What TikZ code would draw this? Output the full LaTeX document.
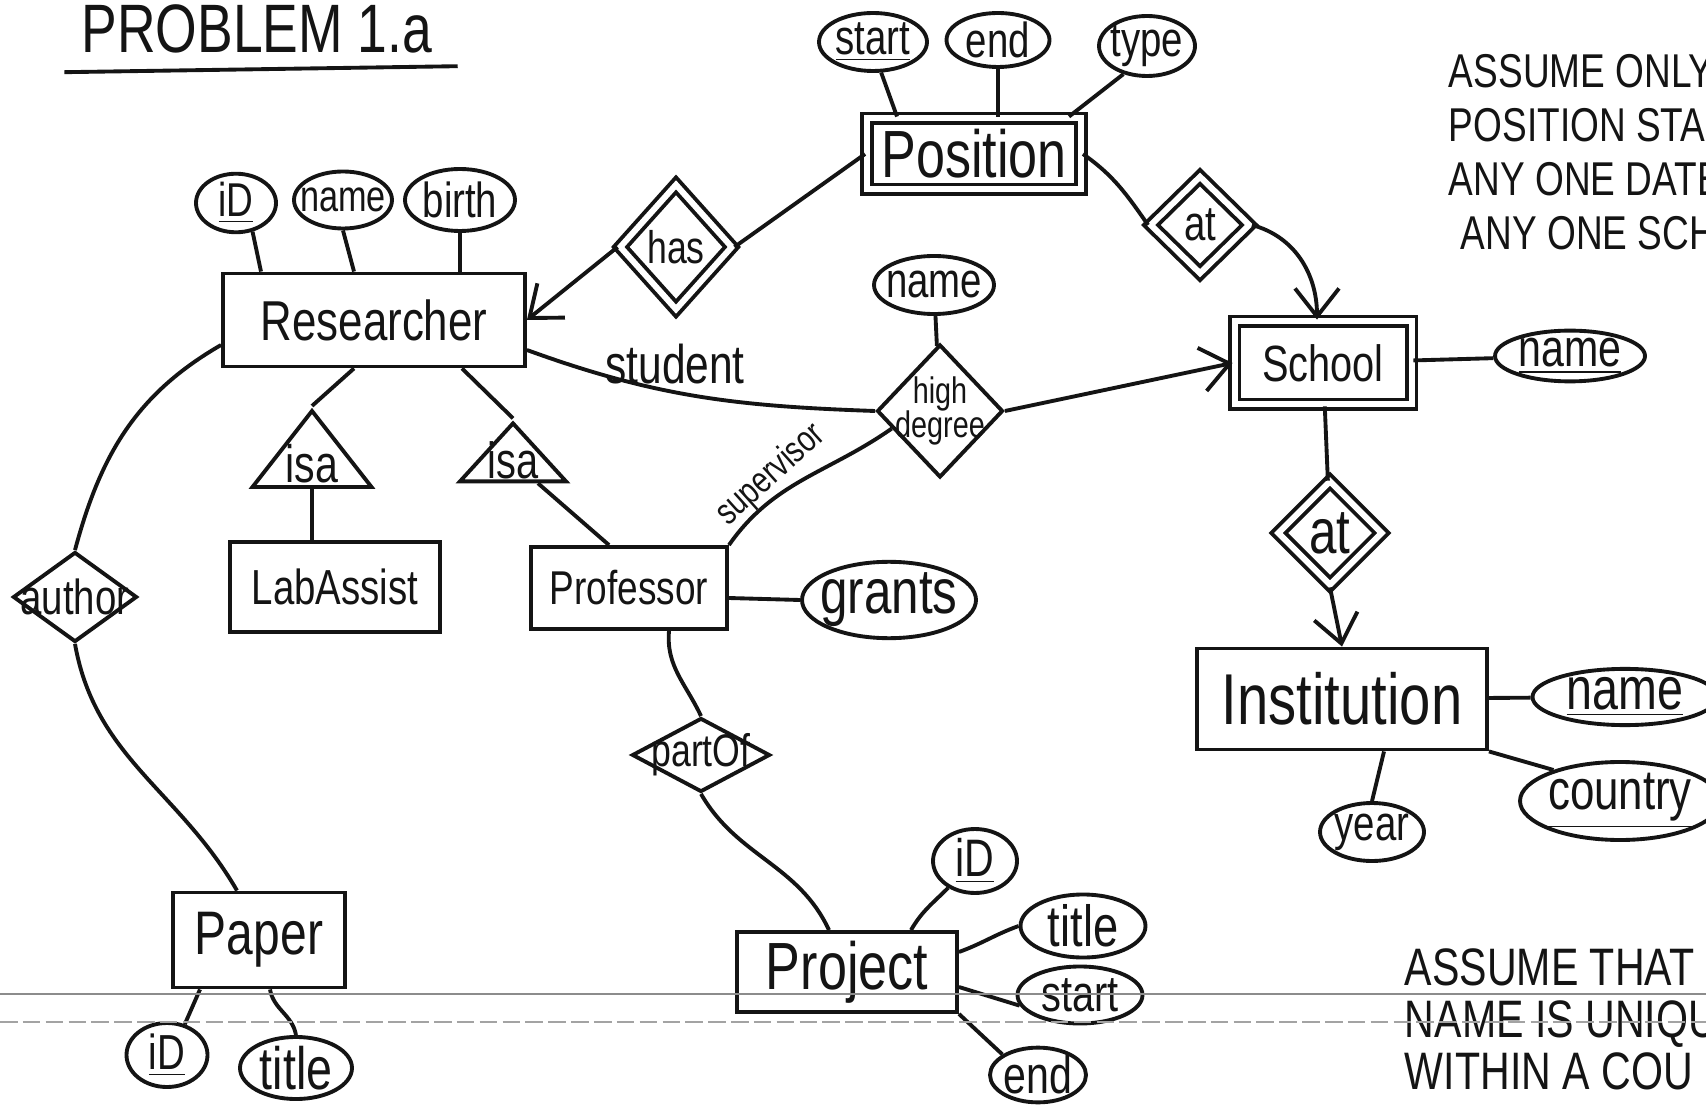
\documentclass[tikz,border=0pt]{standalone}
\usepackage{fontspec}
\setmainfont{Liberation Sans}[FakeStretch=0.78]
\usetikzlibrary{arrows.meta, positioning, shapes.geometric, calc}
\definecolor{cink}{HTML}{141414}
\definecolor{cgrey}{HTML}{8C8C8C}
\tikzset{
  every picture/.style={line width=1.1pt, color=cink},
  fs/.style={font=\fontsize{#1pt}{#1pt}\selectfont},
  nowidth/.style={execute at begin node={\hbox to 0pt\bgroup\hss}, execute at end node={\hss\egroup}},
  ent/.style={draw, rectangle, inner sep=0pt, nowidth},
  weak/.style={double, double distance=0.06cm},
  attr/.style={draw, ellipse, inner sep=0pt, nowidth},
  rel/.style={draw, diamond, inner sep=0pt, nowidth},
  isa/.style={draw, isosceles triangle, shape border rotate=90, isosceles triangle stretches, inner sep=0pt},
  arrow/.style={-{Straight Barb[length=2.8mm, width=4.4mm]}},
  note/.style={align=left, inner sep=0pt, anchor=north west},
}

\begin{document}
\begin{tikzpicture}
  \fill[white] (0,0) rectangle (17.06,-11.06);
  \useasboundingbox (0,0) rectangle (17.06,-11.06);
  % heading and side notes
  \node[fs=19.5, inner sep=0pt] (head) at (2.57,-0.29) {PROBLEM 1.a};
  \draw ($(head.south west)+(-0.155,-0.17)$) -- ($(head.south east)+(0.235,-0.11)$);
  \node[note, font=\fontsize{13.5pt}{15.4pt}\selectfont] (noteA) at (14.47,-0.52) {ASSUME ONLY\\POSITION STAR\\ANY ONE DATE\\\hspace*{0.12cm}ANY ONE SCHO};
  \node[note, font=\fontsize{15pt}{14.8pt}\selectfont] (noteB) at (14.03,-9.47) {ASSUME THAT\\NAME IS UNIQU\\WITHIN A COU};
  % Position
  \node[ent, weak, fs=19, minimum width=2.14cm, minimum height=0.71cm] (pos) at (9.74,-1.54) {Position};
  \node[attr, fs=14, minimum width=1.08cm, minimum height=0.58cm] (pstart) at (8.73,-0.42) {\underline{start}};
  \node[attr, fs=14, minimum width=1.03cm, minimum height=0.54cm] (pend) at (9.98,-0.40) {end};
  \node[attr, fs=14, minimum width=0.96cm, minimum height=0.60cm] (ptype) at (11.47,-0.46) {type};
  \node[rel, weak, fs=13, minimum width=1.13cm, minimum height=1.26cm] (has) at (6.76,-2.47) {has};
  \node[rel, weak, fs=14, minimum width=1.0cm, minimum height=0.98cm] (atpos) at (12.00,-2.25) {at};
  % Researcher
  \node[ent, fs=16, minimum width=3.02cm, minimum height=0.93cm] (res) at (3.74,-3.20) {Researcher};
  \node[attr, fs=13.5, minimum width=0.80cm, minimum height=0.52cm] (rid) at (2.36,-2.03) {\underline{iD}};
  \node[attr, fs=12.5, minimum width=0.98cm, minimum height=0.57cm] (rname) at (3.43,-2.00) {name};
  \node[attr, fs=14, minimum width=1.10cm, minimum height=0.62cm] (rbirth) at (4.60,-2.00) {birth};
  \node[isa, minimum width=1.19cm, minimum height=0.76cm] (isalab) at (3.12,-4.58) {};
  \node[isa, minimum width=1.06cm, minimum height=0.58cm] (isaprof) at (5.13,-4.58) {};
  \node[fs=15] (isalabt) at ([yshift=0.25cm]isalab.lower side) {isa};
  \node[fs=14.5] (isaproft) at ([yshift=0.23cm]isaprof.lower side) {isa};
  \node[ent, fs=14, minimum width=2.10cm, minimum height=0.90cm] (lab) at (3.35,-5.87) {LabAssist};
  \node[ent, fs=13.5, minimum width=1.96cm, minimum height=0.82cm] (prof) at (6.29,-5.88) {Professor};
  \node[attr, fs=18, minimum width=1.74cm, minimum height=0.52cm] (grants) at (8.89,-6.00) {grants};
  % high degree
  \node[rel, fs=10.5, minimum width=1.26cm, minimum height=1.33cm] (hd) at (9.40,-4.11) {\shortstack{high\\[-3pt]degree}};
  \node[attr, fs=14, minimum width=1.20cm, minimum height=0.58cm] (hdname) at (9.34,-2.85) {name};
  \node[fs=15.5] (lstudent) at (6.75,-3.64) {student};
  \node[fs=10.5, rotate=42] (lsuper) at (7.71,-4.75) {supervisor};
  % School and Institution
  \node[ent, weak, fs=14.5, minimum width=1.77cm, minimum height=0.83cm] (school) at (13.23,-3.63) {School};
  \node[attr, fs=15, minimum width=1.50cm, minimum height=0.48cm] (sname) at (15.70,-3.56) {\underline{name}};
  \node[rel, weak, fs=18, minimum width=1.05cm, minimum height=1.05cm] (atinst) at (13.30,-5.33) {at};
  \node[ent, fs=20.5, minimum width=2.90cm, minimum height=1.01cm] (inst) at (13.42,-6.99) {Institution};
  \node[attr, fs=17, minimum width=1.85cm, minimum height=0.56cm] (iname) at (16.25,-6.97) {\underline{name}};
  \node[attr, fs=16, minimum width=2.00cm, minimum height=0.78cm] (icountry) at (16.20,-8.01) {\underline{country}};
  \node[attr, fs=14, minimum width=1.04cm, minimum height=0.58cm] (iyear) at (13.72,-8.32) {year};
  % Paper
  \node[rel, fs=14, minimum width=1.24cm, minimum height=0.90cm] (author) at (0.75,-5.97) {author};
  \node[ent, fs=17.5, minimum width=1.72cm, minimum height=0.95cm] (paper) at (2.59,-9.40) {Paper};
  \node[attr, fs=14, minimum width=0.81cm, minimum height=0.64cm] (paid) at (1.67,-10.55) {\underline{iD}};
  \node[attr, fs=17, minimum width=1.12cm, minimum height=0.53cm] (patitle) at (2.96,-10.68) {title};
  % Project
  \node[rel, fs=13, minimum width=1.38cm, minimum height=0.74cm] (partof) at (7.01,-7.55) {partOf};
  \node[ent, fs=19, minimum width=2.20cm, minimum height=0.80cm] (proj) at (8.47,-9.72) {Project};
  \node[attr, fs=15, minimum width=0.84cm, minimum height=0.62cm] (pjid) at (9.75,-8.61) {\underline{iD}};
  \node[attr, fs=16.5, minimum width=1.25cm, minimum height=0.63cm] (pjtitle) at (10.83,-9.26) {title};
  \node[attr, fs=14.5, minimum width=1.25cm, minimum height=0.57cm] (pjstart) at (10.80,-9.95) {start};
  \node[attr, fs=15, minimum width=0.96cm, minimum height=0.51cm] (pjend) at (10.38,-10.75) {end};

  % attribute links
  \draw (pstart.-75) -- ([xshift=-0.77cm]pos.north);
  \draw (pend.south) -- (pend.south |- pos.north);
  \draw (ptype.-130) -- ([xshift=0.95cm]pos.north);
  \draw (rid.-60) -- ([xshift=-1.13cm]res.north);
  \draw (rname.south) -- ([xshift=-0.2cm]res.north);
  \draw (rbirth.south) -- (rbirth.south |- res.north);
  \foreach \a/\c in {hdname/hd, school/sname, school/atinst, inst/iname} \draw (\a) -- (\c);
  \draw (inst.south east) -- (icountry.155);
  \draw ([xshift=0.42cm]inst.south) -- (iyear.north);
  \draw ([xshift=-0.59cm]paper.south) -- (paid.60);
  \draw ([xshift=0.11cm]paper.south) to[out=-80, in=100] (patitle.north);
  \draw ([yshift=-0.1cm]prof.east) -- (grants.west);
  \draw ([xshift=0.64cm]proj.north) to[out=60, in=225] (pjid.225);
  \draw ([yshift=0.2cm]proj.east) to[out=20, in=200] (pjtitle.west);
  \draw ([yshift=-0.15cm]proj.east) -- (pjstart.190);
  \draw (proj.south east) -- (pjend.150);
  % relationships
  \draw (pos.west) -- (has.east); \draw[arrow] (has.west) -- (res.east);
  \draw (pos.east) to[out=-35, in=125] (atpos.west);
  \draw[arrow] (atpos.east) to[out=-15, in=90] ([xshift=-0.06cm]school.north);
  \draw[arrow] (atinst.south) -- (inst.north);
  \draw ([yshift=-0.3cm]res.east) to[out=-20, in=178] (hd.west);
  \draw (prof.north east) to[out=55, in=215] (hd.200);
  \draw[arrow] (hd.east) -- (school.west);
  \draw ([xshift=-0.2cm]res.south) -- (isalab.apex);
  \draw ([xshift=0.88cm]res.south) -- (isaprof.apex);
  \draw (isalab.lower side) -- (isalab.lower side |- lab.north);
  \draw ([xshift=0.25cm]isaprof.lower side) -- ([xshift=-0.2cm]prof.north);
  \draw ([yshift=-0.25cm]res.west) to[out=210, in=75] (author.north);
  \draw (author.south) to[out=-80, in=120] ([xshift=-0.22cm]paper.north);
  \draw ([xshift=0.4cm]prof.south) to[out=-95, in=115] (partof.north);
  \draw (partof.south) to[out=-60, in=115] ([xshift=-0.18cm]proj.north);
  % scan lines across the sheet
  \draw[cgrey, line width=0.6pt] (0,-9.94) -- (17.06,-9.94);
  \draw[cgrey!80, line width=0.6pt, dash pattern=on 5pt off 1.5pt] (0,-10.22) -- (17.06,-10.22);
\end{tikzpicture}
\end{document}
